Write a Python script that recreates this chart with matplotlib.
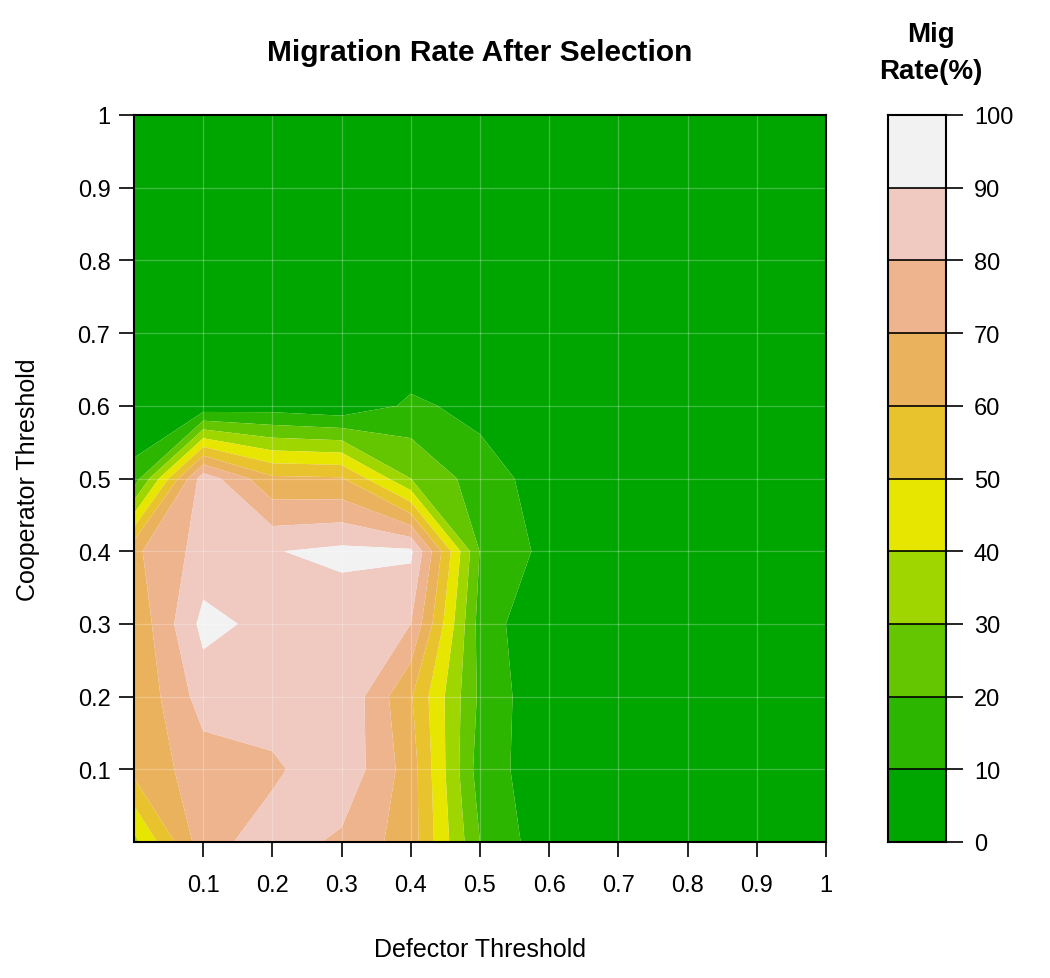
import numpy as np
import matplotlib
matplotlib.use("Agg")
import matplotlib.pyplot as plt
from matplotlib.colors import ListedColormap, BoundaryNorm

plt.rcParams['font.family'] = ['Liberation Sans', 'DejaVu Sans']

# Grid of thresholds
defector = [0.0, 0.1, 0.2, 0.3, 0.4, 0.5, 0.6, 0.7, 0.8, 0.9, 1.0]
cooperator = [0.0, 0.1, 0.2, 0.3, 0.4, 0.5, 0.6, 0.7, 0.8, 0.9, 1.0]

# Migration rate (%) rows by cooperator threshold (y), columns by defector threshold (x)
mig_y00 = [37, 76, 85, 78, 65, 20, 3.0, 0, 0, 0, 0]
mig_y01 = [63, 75, 78, 88, 65, 15, 3.6, 0, 0, 0, 0]
mig_y02 = [61, 84.5, 86, 89.4, 61, 18, 1.0, 0, 0, 0, 0]
mig_y03 = [62, 93, 87, 84, 80, 16, 0, 0, 0, 0, 0]
mig_y04 = [68, 84, 89.5, 92.5, 92, 19.5, 6.7, 0, 0, 0, 0]
mig_y05 = [14, 86, 62, 61, 30, 15, 5, 0, 0, 0, 0]
mig_y06 = [0, 3, 5, 2, 12, 6.8, 0, 0, 0, 0, 0]
mig_y07 = [0, 0, 0, 0, 0, 0, 0, 0, 0, 0, 0]
mig_y08 = [0, 0, 0, 0, 0, 0, 0, 0, 0, 0, 0]
mig_y09 = [0, 0, 0, 0, 0, 0, 0, 0, 0, 0, 0]
mig_y10 = [0, 0, 0, 0, 0, 0, 0, 0, 0, 0, 0]

levels = [0, 10, 20, 30, 40, 50, 60, 70, 80, 90, 100]
colors = ["#00A600", "#2DB600", "#63C600", "#A0D600", "#E6E600",
          "#E8C32E", "#EBB25E", "#EDB48E", "#F0C9C0", "#F2F2F2"]
tick_vals = [0.1, 0.2, 0.3, 0.4, 0.5, 0.6, 0.7, 0.8, 0.9, 1.0]
tick_labels = ["0.1", "0.2", "0.3", "0.4", "0.5", "0.6", "0.7", "0.8", "0.9", "1"]

Z = np.array([mig_y00, mig_y01, mig_y02, mig_y03, mig_y04, mig_y05,
              mig_y06, mig_y07, mig_y08, mig_y09, mig_y10], dtype=float)
X, Y = np.meshgrid(defector, cooperator)

W, H = 1050, 979
fig = plt.figure(figsize=(W / 100, H / 100), dpi=100)

TICK_FS = 17
LAB_FS = 18
TITLE_FS = 21.5
KEY_FS = 20

# main axes
l, r, t, b = 134, 826, 116, 843
ax = fig.add_axes([l / W, (H - b) / H, (r - l) / W, (b - t) / H])
ax.contourf(X, Y, Z, levels=levels, colors=colors, antialiased=True)
for v in tick_vals[:-1]:
    ax.axvline(v, color='white', alpha=0.25, lw=0.9)
    ax.axhline(v, color='white', alpha=0.25, lw=0.9)
ax.set_xlim(0, 1)
ax.set_ylim(0, 1)
ax.set_xticks(tick_vals)
ax.set_xticklabels(tick_labels)
ax.set_yticks(tick_vals)
ax.set_yticklabels(tick_labels)
ax.tick_params(axis='x', labelsize=TICK_FS, length=11, width=1.2, direction='out', pad=12)
ax.tick_params(axis='y', labelsize=TICK_FS, length=11, width=1.2, direction='out', pad=6)
for s in ax.spines.values():
    s.set_linewidth(1.5)
fig.text((l + r) / 2 / W, 1 - 950 / H, "Defector Threshold",
         ha='center', va='center', fontsize=LAB_FS)
fig.text(28 / W, 1 - ((t + b) / 2) / H, "Cooperator Threshold",
         ha='center', va='center', fontsize=LAB_FS, rotation=90)
fig.text((l + r) / 2 / W, 1 - 53 / H, "Migration Rate After Selection",
         ha='center', va='center', fontsize=TITLE_FS, fontweight='bold')

# colour key
cl, cr = 888, 946
cax = fig.add_axes([cl / W, (H - b) / H, (cr - cl) / W, (b - t) / H])
cmap = ListedColormap(colors)
norm = BoundaryNorm(levels, cmap.N)
mids = np.array([[(levels[i] + levels[i + 1]) / 2] for i in range(len(levels) - 1)])
cax.pcolormesh([0, 1], levels, mids, cmap=cmap, norm=norm)
for lv in levels[1:-1]:
    cax.axhline(lv, color='black', lw=1.2)
cax.set_xlim(0, 1)
cax.set_ylim(0, 100)
cax.set_xticks([])
cax.yaxis.tick_right()
cax.set_yticks(levels)
cax.set_yticklabels([str(v) for v in levels])
cax.tick_params(axis='y', labelsize=TICK_FS, length=12, width=1.2, pad=8)
for s in cax.spines.values():
    s.set_linewidth(1.5)
fig.text(931 / W, 1 - 35 / H, "Mig", ha='center', va='center',
         fontsize=KEY_FS, fontweight='bold')
fig.text(931 / W, 1 - 72 / H, "Rate(%)", ha='center', va='center',
         fontsize=KEY_FS, fontweight='bold')

fig.savefig("out.png", dpi=100)
